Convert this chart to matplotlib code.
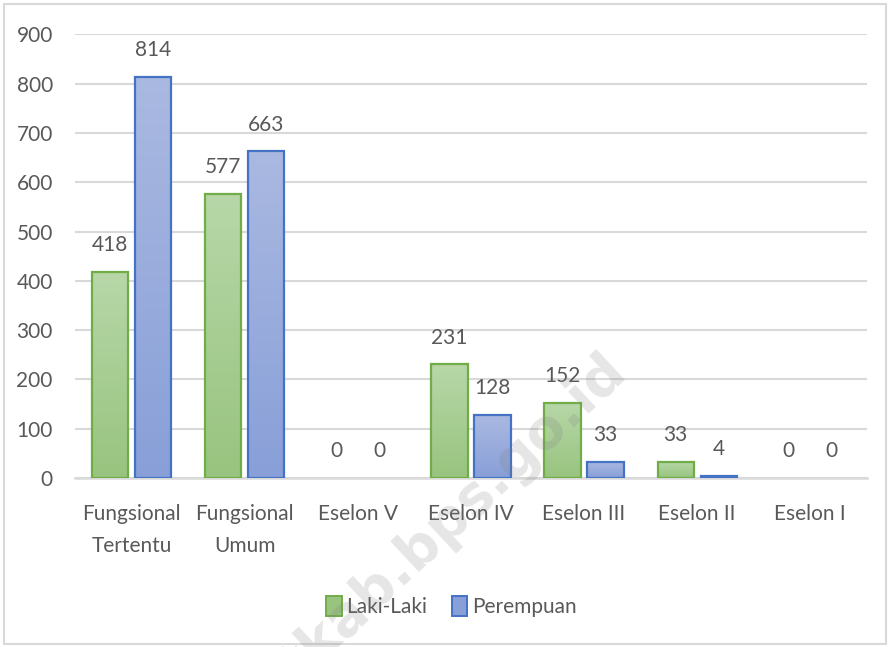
import matplotlib.pyplot as plt
import numpy as np
from matplotlib.colors import LinearSegmentedColormap
from matplotlib.patches import Rectangle

plt.rcParams["font.family"] = ["Lato", "DejaVu Sans"]

# Data
categories = ["Fungsional\nTertentu", "Fungsional\nUmum", "Eselon V", "Eselon IV",
              "Eselon III", "Eselon II", "Eselon I"]
laki = [418, 577, 0, 231, 152, 33, 0]
perempuan = [814, 663, 0, 128, 33, 4, 0]
series_names = ["Laki-Laki", "Perempuan"]
y_ticks = [0, 100, 200, 300, 400, 500, 600, 700, 800, 900]

text_color = "#595959"
grid_color = "#d9d9d9"
edge_colors = ["#70ad47", "#4472c4"]
grad_colors = [("#b7d7a8", "#98c47f"), ("#aab9e1", "#889fd8")]

fig = plt.figure(figsize=(8.9, 6.47), dpi=100)
ax = fig.add_axes([0.0843, 0.2612, 0.8897, 0.6855])

x = np.arange(len(categories))
width = 0.32
offsets = [-0.19, 0.19]

ax.set_xlim(-0.5, len(categories) - 0.5)
ax.set_ylim(0, 900)

for k, vals in enumerate([laki, perempuan]):
    cmap = LinearSegmentedColormap.from_list("g%d" % k, [grad_colors[k][1], grad_colors[k][0]])
    bars = ax.bar(x + offsets[k], vals, width, facecolor="none",
                  edgecolor=edge_colors[k], linewidth=1.6, zorder=3,
                  label=series_names[k])
    for b, v in zip(bars, vals):
        if v > 0:
            grad = np.linspace(0, 1, 100).reshape(-1, 1)
            im = ax.imshow(grad, cmap=cmap, aspect="auto", origin="lower",
                           extent=[b.get_x(), b.get_x() + b.get_width(), 0, v],
                           zorder=2)
            im.set_clip_path(b)
        else:
            b.set_linewidth(0)
        ax.annotate(str(v), (b.get_x() + b.get_width() / 2, v),
                    xytext=(0, 12), textcoords="offset points",
                    ha="center", va="bottom", fontsize=15, color=text_color)

ax.set_xlim(-0.5, len(categories) - 0.5)
ax.set_ylim(0, 900)
ax.set_yticks(y_ticks)
ax.set_xticks(x)
ax.set_xticklabels(categories, linespacing=1.75)
ax.tick_params(axis="both", length=0, labelsize=15, colors=text_color)
ax.tick_params(axis="x", pad=19)
ax.tick_params(axis="y", pad=16)
ax.yaxis.grid(True, color=grid_color, linewidth=1.5, zorder=0)
ax.set_axisbelow(True)
for s in ["top", "right", "left"]:
    ax.spines[s].set_visible(False)
ax.spines["bottom"].set_color(grid_color)
ax.spines["bottom"].set_linewidth(1.8)

# legend squares
handles = [Rectangle((0, 0), 1, 1, facecolor=grad_colors[k][1], edgecolor=edge_colors[k],
                     linewidth=1.4) for k in range(2)]
fig.legend(handles, series_names, loc="center", bbox_to_anchor=(0.507, 0.063),
           ncol=2, frameon=False, fontsize=15, labelcolor=text_color,
           handlelength=0.75, handleheight=1.1, handletextpad=0.2, columnspacing=1.2)

# watermark
fig.text(600 / 890, 1 - 345 / 647, "tkab.bps.go.id", rotation=43, ha="right", va="top",
         rotation_mode="anchor", fontsize=40, fontweight="bold", family="DejaVu Sans",
         color="#808080", alpha=0.2, zorder=10)

# outer border
fig.patches.append(Rectangle((0.004, 0.004), 0.992, 0.99, transform=fig.transFigure,
                             fill=False, edgecolor=grid_color, linewidth=1.5))

fig.savefig("out.png", dpi=100)
